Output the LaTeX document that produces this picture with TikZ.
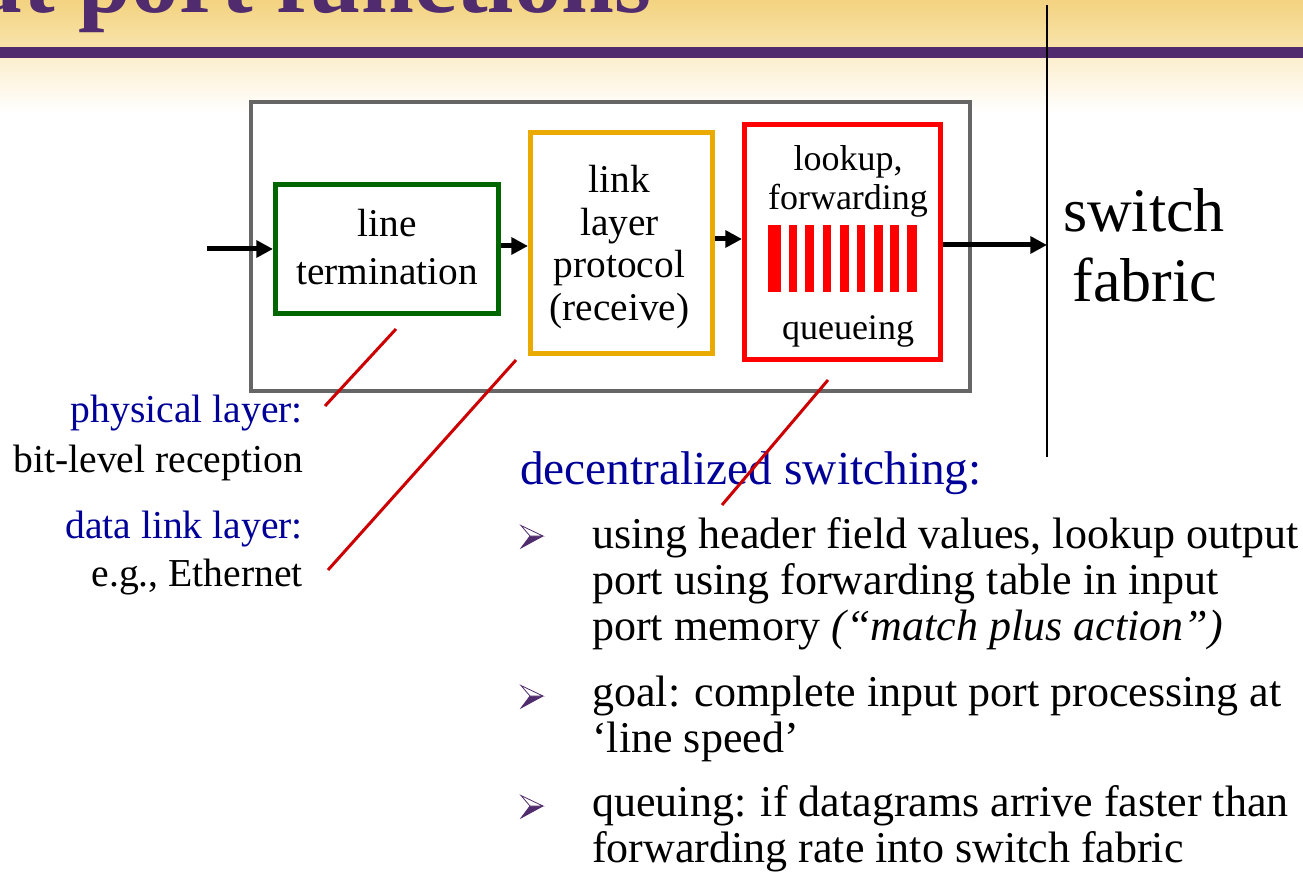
\documentclass[tikz,border=0pt]{standalone}
\usepackage{fontspec}
\setmainfont{Liberation Serif}
\usetikzlibrary{arrows.meta}

\definecolor{titlepurple}{RGB}{80,44,110}
\definecolor{headgold}{RGB}{243,211,128}
\definecolor{headgoldlight}{RGB}{248,227,170}
\definecolor{headcream}{RGB}{252,239,206}
\definecolor{labelblue}{RGB}{0,0,153}
\definecolor{termgreen}{RGB}{0,102,0}
\definecolor{linkorange}{RGB}{234,170,0}
\definecolor{queuered}{RGB}{255,0,0}
\definecolor{portgray}{RGB}{102,102,102}
\definecolor{calloutred}{RGB}{204,0,0}

\tikzset{
  flow/.style={line width=3.75pt, -{Triangle[length=12.5pt,width=12.5pt]}},
  unitbox/.style={draw, line width=3.75pt, inner sep=0pt, fill=white},
  callout/.style={draw=calloutred, line width=2.25pt},
  txt/.style={inner sep=0pt, anchor=base},
  boxtext/.style={txt, font=\fontsize{29.5}{32}\selectfont},
  queuetext/.style={txt, font=\fontsize{27}{29}\selectfont},
  fabrictext/.style={txt, font=\fontsize{46.5}{50}\selectfont},
  sidetext/.style={txt, anchor=base east, font=\fontsize{29.7}{32}\selectfont},
  bullettext/.style={txt, anchor=base west, font=\fontsize{33}{36}\selectfont},
  bmark/.pic={
    \fill[titlepurple] (-13,0) -- (0,0) -- (-22,12) -- cycle;
    \draw[titlepurple, line width=0.6pt, fill=white, line join=miter]
      (-13,0) -- (-22,-10.5) -- (0,0) -- cycle;
    \draw[titlepurple, line width=0.6pt] (-13,0) -- (-22,12) -- (0,0);
  }
}

\begin{document}
\begin{tikzpicture}[x=0.75pt,y=-0.75pt]
  \useasboundingbox (0,0) rectangle (1303,873);
  \clip (0,0) rectangle (1303,873);

  % slide header: gradient and purple rule
  \shade[top color=headgold, bottom color=headgoldlight] (0,0) rectangle (1303,47);
  \shade[top color=headcream, bottom color=white] (0,58) rectangle (1303,112);
  \fill[titlepurple] (0,47) rectangle (1303,58);
  \node[txt, anchor=base east, text=titlepurple,
        font=\bfseries\fontsize{71.25}{75}\selectfont] (title) at (652,13)
        {Input port functions};

  % switch fabric boundary
  \coordinate (fabtop) at (1047,5);
  \coordinate (fabbot) at (1047,457);
  \draw[line width=1.9pt] (fabtop) -- (fabbot);
  \node[fabrictext] (sw) at (1144,232) {switch};
  \node[fabrictext] (fab) at (1145,302) {fabric};

  % input port and its three stages
  \node[unitbox, draw=portgray, line width=3pt,
        minimum width=539.25pt, minimum height=216.4pt] (port) at (610.5,246.75) {};
  \node[unitbox, draw=termgreen, minimum width=167.25pt, minimum height=96.75pt]
        (green) at (387,249) {};
  \node[unitbox, draw=linkorange, minimum width=136.5pt, minimum height=165.75pt]
        (orange) at (621.5,243) {};
  \node[unitbox, draw=queuered, minimum width=147pt, minimum height=176.25pt]
        (red) at (842.5,242) {};

  \node[boxtext] (lt1) at (387,237) {line};
  \node[boxtext] (lt2) at (387,285) {termination};

  \node[boxtext] (lp1) at (619.5,193) {link};
  \node[boxtext] (lp2) at (619.5,235.5) {layer};
  \node[boxtext] (lp3) at (619.5,278) {protocol};
  \node[boxtext] (lp4) at (619.5,320.5) {(receive)};

  \node[queuetext] (lf1) at (848,171) {lookup,};
  \node[queuetext] (lf2) at (848,210) {forwarding};
  \node[queuetext] (lq) at (848,340) {queueing};

  % queue buffer
  \foreach \l/\r in {768/781, 788.5/797, 805/814, 822.5/831, 839.5/848.5,
                     856.5/865, 873.5/882.5, 890/898.5, 906.5/917}
    \fill[queuered] (\l,225) rectangle (\r,292);

  % data path
  \coordinate (in) at (207,249);
  \coordinate (ya) at (0,246);
  \coordinate (yb) at (0,239);
  \coordinate (yc) at (0,245);
  \draw[flow] (in) -- (green.west |- in);
  \draw[flow] (green.east |- ya) -- (orange.west |- ya);
  \draw[flow] (orange.east |- yb) -- (red.west |- yb);
  \draw[flow] (red.east |- yc) -- (fabtop |- yc);

  % side annotations
  \node[sidetext, text=labelblue] (phy) at (303,423) {physical layer:};
  \node[sidetext] (phyd) at (303,472) {bit-level reception};
  \node[sidetext, text=labelblue] (dll) at (303,538) {data link layer:};
  \node[sidetext] (dlld) at (303,586) {e.g., Ethernet};

  \coordinate (c1a) at (396,329); \coordinate (c1b) at (325,406);
  \coordinate (c2a) at (516,360); \coordinate (c2b) at (328,570);
  \coordinate (c3a) at (828,380); \coordinate (c3b) at (722,505);

  % decentralized switching notes
  \node[txt, anchor=base west, text=labelblue, font=\fontsize{35.5}{38}\selectfont]
        (dec) at (520,484) {decentralized switching:};

  \draw[callout] (c1a) -- (c1b);
  \draw[callout] (c2a) -- (c2b);
  \draw[callout] (c3a) -- (c3b);

  \pic at (543,536) {bmark};
  \pic at (543,696) {bmark};
  \pic at (543,806) {bmark};

  \node[bullettext] (b1a) at (592,548) {using header field values, lookup output};
  \node[bullettext] (b1b) at (592,594) {port using forwarding table in input};
  \node[bullettext] (b1c) at (592,640) {port memory \textit{(“match plus action”)}};
  \node[bullettext] (b2a) at (592,706) {goal: complete input port processing at};
  \node[bullettext] (b2b) at (592,752) {‘line speed’};
  \node[bullettext] (b3a) at (592,816) {queuing: if datagrams arrive faster than};
  \node[bullettext] (b3b) at (592,862) {forwarding rate into switch fabric};
\end{tikzpicture}
\end{document}
